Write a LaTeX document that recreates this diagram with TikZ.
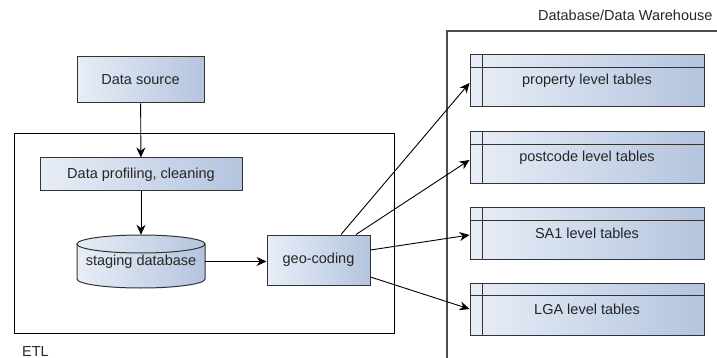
\documentclass[tikz,border=0pt]{standalone}
\usepackage{fontspec}
\setmainfont{Liberation Sans}
\usetikzlibrary{arrows.meta}
\definecolor{boxL}{HTML}{E8EEF7}
\definecolor{boxR}{HTML}{B4C4DE}
\definecolor{edge}{HTML}{333333}
\begin{document}
\begin{tikzpicture}[x=1pt,y=-1pt,
  every node/.style={font=\fontsize{14.5}{17}\selectfont, text=black!85},
  blue box/.style={draw=edge, line width=1pt, left color=boxL, right color=boxR, shading angle=90, inner sep=0pt},
  tablebox/.style={blue box, minimum width=234pt, minimum height=52pt},
  conn/.style={draw=black, line width=0.9pt, -{Stealth[length=10pt,width=9pt]}},
  frame/.style={draw=black, line width=0.9pt}
  ]
\useasboundingbox (0,0) rectangle (717,358);

% ETL frame
\draw[frame] (14,133) rectangle (394,333);
\node[anchor=base west, inner sep=0pt, text depth=0pt] (etl) at (22,356) {ETL};

% Database frame
\coordinate (dbb) at (447,358);
\coordinate (dbt) at (447,31);
\coordinate (dbr) at (718,31);
\draw[draw=black!70, line width=1.4pt] (dbb) -- (dbt) -- (dbr);
\node[anchor=east] (dbl) at (716,15) {Database/Data Warehouse};

% Data source
\node[blue box, minimum width=127pt, minimum height=46pt] (src) at (140.5,80) {Data source};

% Data profiling
\node[blue box, minimum width=202pt, minimum height=33pt] (prof) at (141,174.5) {Data profiling, cleaning};

% staging database cylinder
\shade[left color=boxL, right color=boxR, shading angle=90]
  (77,244) -- (77,279) arc[start angle=180,end angle=360,x radius=64pt,y radius=9pt]
  -- (205,244) arc[start angle=0,end angle=180,x radius=64pt,y radius=9pt] -- cycle;
\draw[draw=edge, line width=1pt]
  (77,244) -- (77,279) arc[start angle=180,end angle=360,x radius=64pt,y radius=9pt]
  -- (205,244);
\draw[draw=edge, line width=1pt] (141,244) ellipse[x radius=64pt, y radius=9pt];
\node[minimum width=128pt, minimum height=53pt, inner sep=0pt] (stg) at (141,261.5) {\raisebox{-2pt}{staging database}};

% geo-coding
\node[blue box, minimum width=103pt, minimum height=50pt] (geo) at (318.5,260) {geo-coding};

% tables
\foreach \n/\y/\t in {prop/81/property level tables, post/158/postcode level tables, sa/233.5/SA1 level tables, lga/309/LGA level tables}{
  \node[tablebox] (\n) at (587,\y) {\raisebox{-3pt}{\t}};
  \draw[draw=edge, line width=1pt] ([yshift=-13pt]\n.north west) -- ([yshift=-13pt]\n.north east);
  \draw[draw=edge, line width=1pt] ([xshift=13pt]\n.north west) -- ([xshift=13pt]\n.south west);
}

% connectors
\draw[conn] (src) -- (prof);
\draw[conn] (prof) -- (stg.north);
\draw[conn] (stg.east) -- (geo.west |- stg.east);
\draw[conn] ([xshift=22.5pt]geo.north) -- ([yshift=-2pt]prop.west);
\draw[conn] ([xshift=37.5pt]geo.north) -- ([yshift=-2pt]post.west);
\draw[conn] ([yshift=10pt]geo.east) -- ([yshift=-1.5pt]sa.west);
\draw[conn] ([yshift=-17pt]geo.east) -- (lga.west);
\end{tikzpicture}
\end{document}
